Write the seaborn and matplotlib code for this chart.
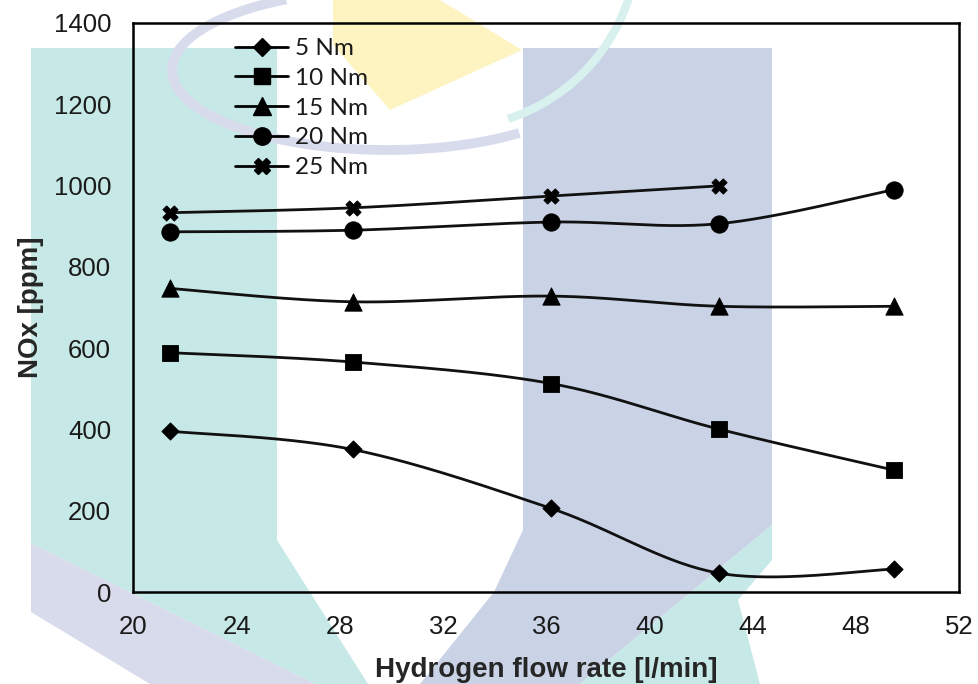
import numpy as np
import matplotlib
matplotlib.use("Agg")
import matplotlib.pyplot as plt
from matplotlib.lines import Line2D
from matplotlib.patches import Polygon
import seaborn as sns

# ---------------- data ----------------
flow_rate = [21.4, 28.5, 36.2, 42.7, 49.5]
nox_5nm = [396, 351, 206, 47, 57]
nox_10nm = [589, 566, 513, 401, 300]
nox_15nm = [747, 714, 728, 703, 703]
nox_20nm = [886, 890, 910, 906, 990]
nox_25nm = [933, 945, 974, 999]
series_labels = ["5 Nm", "10 Nm", "15 Nm", "20 Nm", "25 Nm"]
x_ticks = [20, 24, 28, 32, 36, 40, 44, 48, 52]
y_ticks = [0, 200, 400, 600, 800, 1000, 1200, 1400]

sns.set_style("white")
plt.rcParams["font.family"] = ["Liberation Sans", "DejaVu Sans"]

W, H = 979, 684
fig = plt.figure(figsize=(W / 100, H / 100), dpi=100)

# ---------------- watermark background ----------------
bg = fig.add_axes([0, 0, 1, 1], zorder=-5)
bg.set_xlim(0, W)
bg.set_ylim(H, 0)
bg.axis("off")
teal = "#c6e9e7"
blue = "#cad2e5"
lav = "#d8dbec"
yel = "#fdf4c2"
bg.add_patch(Polygon([(31, 48), (277, 48), (277, 540), (368, 684), (315, 684), (31, 543)],
                     closed=True, fc=teal, ec="none"))
bg.add_patch(Polygon([(31, 543), (315, 684), (150, 684), (31, 612)],
                     closed=True, fc=lav, ec="none"))
bg.add_patch(Polygon([(523, 48), (772, 48), (772, 525), (580, 684), (420, 684), (494, 592), (523, 530)],
                     closed=True, fc=blue, ec="none"))
bg.add_patch(Polygon([(772, 525), (772, 560), (738, 600), (760, 684), (580, 684)],
                     closed=True, fc=teal, ec="none"))
bg.add_patch(Polygon([(333, 0), (440, 0), (522, 50), (390, 110), (333, 45)],
                     closed=True, fc=yel, ec="none"))
t = np.radians(np.linspace(118, 308, 200))
bg.plot(387 + 215 * np.cos(t), 70 - 80 * np.sin(t), color=lav, lw=7, solid_capstyle="butt")
a = np.radians(np.linspace(15, 72, 100))
bg.plot(450 + 188 * np.cos(a), -60 + 188 * np.sin(a), color="#d8f1ef", lw=6,
        solid_capstyle="butt")

# ---------------- main axes ----------------
x0, x1, y0, y1 = 133.4, 959.0, 592.3, 22.7
ax = fig.add_axes([x0 / W, (H - y0) / H, (x1 - x0) / W, (y0 - y1) / H])
ax.patch.set_alpha(0)


def smooth(x, y, n=60):
    pts = np.column_stack([x, y]).astype(float)
    N = len(pts)
    out = []
    tt = np.linspace(0, 1, n)[:, None]
    for i in range(N - 1):
        p0 = pts[i - 1] if i > 0 else pts[i]
        p1 = pts[i]
        p2 = pts[i + 1]
        p3 = pts[i + 2] if i + 2 < N else pts[i + 1]
        c1 = p1 + (p2 - p0) / 6.0
        c2 = p2 - (p3 - p1) / 6.0
        seg = (1 - tt) ** 3 * p1 + 3 * (1 - tt) ** 2 * tt * c1 + 3 * (1 - tt) * tt ** 2 * c2 + tt ** 3 * p2
        out.append(seg if i == 0 else seg[1:])
    out = np.vstack(out)
    return out[:, 0], out[:, 1]


all_series = [nox_5nm, nox_10nm, nox_15nm, nox_20nm, nox_25nm]
markers = ["D", "s", "^", "o", "X"]
msizes = [8.8, 12.0, 12.5, 12.5, 11.0]
col = "black"
for ys, m, ms in zip(all_series, markers, msizes):
    xs = flow_rate[:len(ys)]
    sx, sy = smooth(xs, ys)
    sns.lineplot(x=sx, y=sy, sort=False, estimator=None, color="#111111", lw=2.0, ax=ax, zorder=2)
    sns.scatterplot(x=xs, y=ys, marker=m, s=ms ** 2, color=col, edgecolor=col, linewidth=0.6,
                    ax=ax, zorder=3)

ax.set_xlim(20, 52)
ax.set_ylim(0, 1400)
ax.set_xticks(x_ticks)
ax.set_yticks(y_ticks)
ax.tick_params(axis="both", which="both", direction="in", length=5, width=1.5,
               labelsize=18.5, pad=16, colors="black", labelcolor="#1a1a1a",
               top=False, right=False)
for sp in ax.spines.values():
    sp.set_visible(True)
    sp.set_color("black")
    sp.set_linewidth(1.8)

ax.set_xlabel("Hydrogen flow rate [l/min]", fontsize=20, fontweight="bold", labelpad=13)
ax.set_ylabel("NOx [ppm]", fontsize=20, fontweight="bold", labelpad=7)

handles = [Line2D([], [], color=col, lw=2.0, marker=m, markersize=ms, markeredgecolor=col)
           for m, ms in zip(markers, msizes)]
leg = fig.legend(handles, series_labels, loc="upper left",
                 bbox_to_anchor=(235 / W, 1 - 38 / H), frameon=False,
                 prop={"family": "Lato", "size": 17.5}, handlelength=2.2,
                 handletextpad=0.25, labelspacing=0.36, borderpad=0, borderaxespad=0)
for txt in leg.get_texts():
    txt.set_color("#1a1a1a")

fig.savefig("out.png", dpi=100)
